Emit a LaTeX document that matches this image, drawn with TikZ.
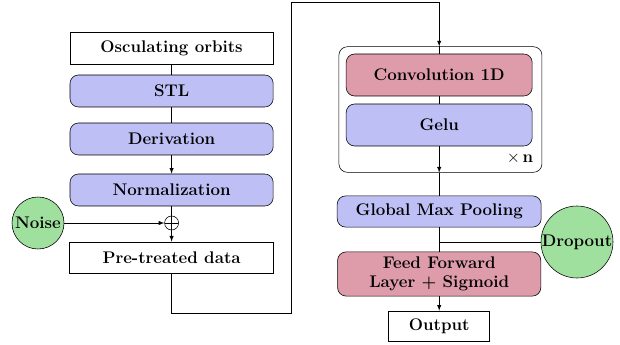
\documentclass[tikz,border=0pt]{standalone}
\usepackage{amsmath}
\usepackage{amssymb}
\usetikzlibrary{fit}
\definecolor{layerblue}{RGB}{189,191,245}
\definecolor{layerpink}{RGB}{222,155,170}
\definecolor{extragreen}{RGB}{160,224,158}

\begin{document}
\begin{tikzpicture}[thin, font=\fontsize{12}{14}\selectfont\bfseries,
  plainbox/.style={draw, rectangle, minimum width=5.08cm, minimum height=0.8cm},
  bluebox/.style={draw, rectangle, rounded corners=6pt, fill=layerblue, minimum width=5.08cm, minimum height=0.8cm},
  pinkbox/.style={draw, rectangle, rounded corners=6pt, fill=layerpink, minimum width=5.08cm, minimum height=1.05cm, align=center},
  extra/.style={draw, circle, fill=extragreen, inner sep=0pt}]
  \useasboundingbox (0,0) rectangle (15.5,8.6);

  % pre-treatment column
  \node [plainbox] (osc) at (4.29,7.4) {Osculating orbits};
  \node [bluebox] (stl) at (4.29,6.325) {STL};
  \node [bluebox] (deriv) at (4.29,5.125) {Derivation};
  \node [bluebox] (norm) at (4.29,3.85) {Normalization};
  \node [draw, circle, minimum size=0.35cm, inner sep=0pt,
         path picture={\draw (path picture bounding box.north) -- (path picture bounding box.south)
                             (path picture bounding box.west) -- (path picture bounding box.east);}]
        (plus) at (4.29,3.025) {};
  \node [extra, minimum size=1.3cm] (noise) at (0.95,3.025) {Noise};
  \node [plainbox, minimum width=5.1cm, minimum height=0.78cm] (pre) at (4.29,2.1625) {Pre-treated data};

  % network column
  \node [pinkbox, minimum width=4.65cm] (conv) at (10.98,6.725) {Convolution 1D};
  \node [bluebox, minimum width=4.65cm, minimum height=1.05cm] (gelu) at (10.98,5.475) {Gelu};
  \node [inner sep=1pt, font=\fontsize{12}{14}\selectfont] (times) at (13.0,4.65) {$\times$\,\textbf{n}};
  \node [draw, rectangle, rounded corners=6pt, inner sep=0.175cm, fit=(conv)(gelu)(times)] (block) {};
  \node [bluebox, minimum width=5.1cm, minimum height=0.78cm] (pool) at (10.98,3.3125) {Global Max Pooling};
  \node [extra, minimum size=1.8cm] (drop) at (14.425,2.55) {Dropout};
  \node [pinkbox] (ff) at (10.98,1.75) {Feed Forward\\Layer + Sigmoid};
  \node [plainbox, minimum width=2.525cm, minimum height=0.75cm] (out) at (10.98,0.45) {Output};

  \path (osc) edge (stl)
        (stl) edge (deriv)
        (deriv) edge [-latex] (norm)
        (norm) edge (plus)
        (plus) edge [-latex] (pre)
        (noise) edge [-latex] (plus);

  \coordinate (turn) at (7.275,0.775);
  \coordinate (blocktop) at (conv.north |- block.north);
  \coordinate (blockbot) at (gelu.south |- block.south);
  \draw [-latex] (pre.south) |- (turn) |- ([yshift=1.1cm]blocktop) -- (blocktop);

  \path (blocktop) edge (conv.north)
        (conv) edge (gelu)
        (gelu) edge [-latex] (blockbot)
        (blockbot) edge (pool)
        (pool) edge (ff)
        (ff) edge [-latex] (out);
  \draw (drop.west) -- (drop.west -| pool.south);
\end{tikzpicture}
\end{document}
